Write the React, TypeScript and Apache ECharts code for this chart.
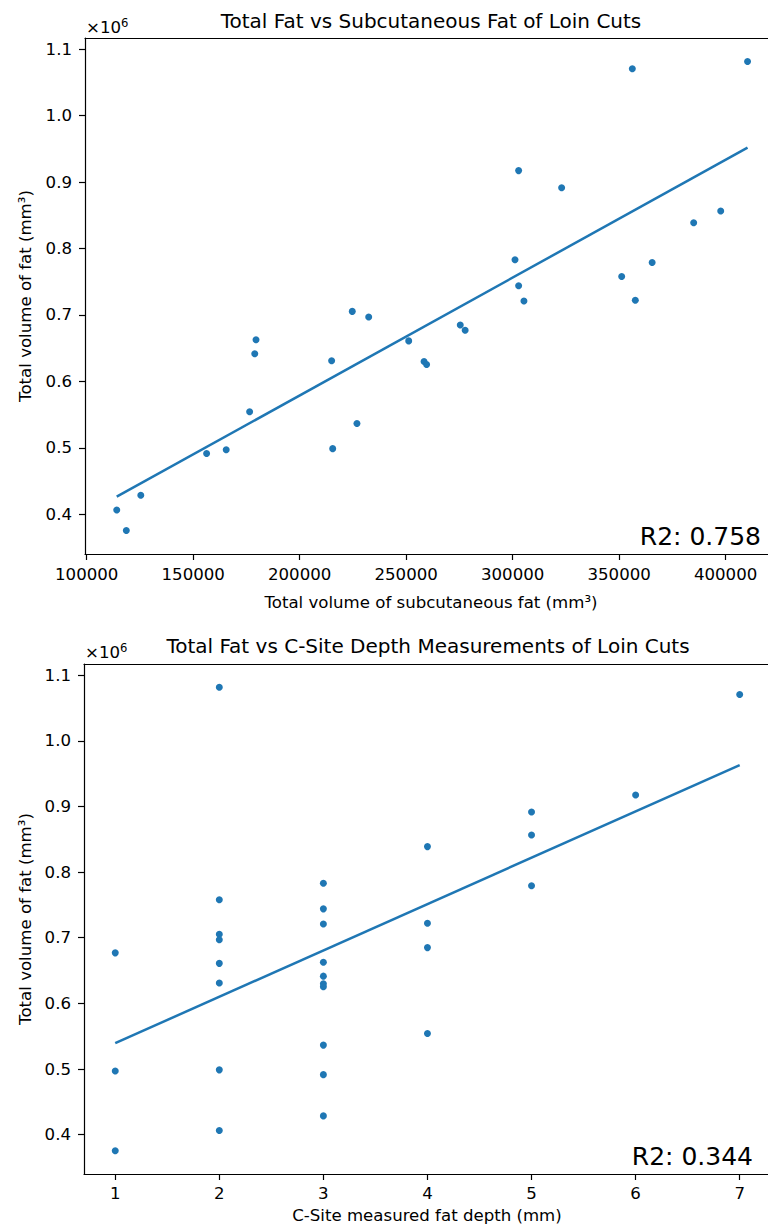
import React, { useEffect, useRef } from "react";
import * as echarts from "echarts";

// ---- Data ----
const subcutaneousFat = [
  114100, 118600, 125400, 156300, 165500, 176500, 178900, 179500, 215000, 215500,
  224700, 226900, 232400, 251200, 258400, 259600, 275400, 277700, 301100, 302800,
  302800, 305300, 323000, 351200, 356200, 357600, 365500, 385000, 397700, 410300,
];
const totalFat = [
  406500, 375500, 428700, 491500, 497000, 554300, 641500, 662800, 631200, 498800,
  705400, 536500, 697000, 661000, 630000, 625500, 685000, 677000, 783000, 917300,
  744000, 721000, 891600, 758000, 1070500, 722100, 779100, 838800, 856600, 1081500,
];
const cSiteDepth = [
  2, 1, 3, 3, 1, 4, 3, 3, 2, 2,
  2, 3, 2, 2, 3, 3, 4, 1, 3, 6,
  3, 3, 5, 2, 7, 4, 5, 4, 5, 2,
];
const subFitX = [114100, 410300];
const subFitY = [426500, 951900];
const depthFitX = [1, 7];
const depthFitY = [539500, 963000];

const subTicks = [100000, 150000, 200000, 250000, 300000, 350000, 400000];
const depthTicks = [1, 2, 3, 4, 5, 6, 7];
const fatTicks = [400000, 500000, 600000, 700000, 800000, 900000, 1000000, 1100000];

const titleSub = "Total Fat vs Subcutaneous Fat of Loin Cuts";
const titleDepth = "Total Fat vs C-Site Depth Measurements of Loin Cuts";
const xNameSub = "Total volume of subcutaneous fat (mm³)";
const xNameDepth = "C-Site measured fat depth (mm)";
const yName = "Total volume of fat (mm³)";
const r2Sub = "R2: 0.758";
const r2Depth = "R2: 0.344";

const BLUE = "#1f77b4";
const FONT = "DejaVu Sans";
const TICK_FS = 16.6;

export default function App() {
  const ref = useRef<HTMLDivElement>(null);

  useEffect(() => {
    if (!ref.current) return;
    const chart = echarts.init(ref.current, undefined, { renderer: "svg" });

    const axisLine = { show: true, lineStyle: { color: "#000", width: 1.2 } };
    const axisTick = (vals: number[]) => ({
      show: true,
      length: 6,
      lineStyle: { color: "#000", width: 1.2 },
      customValues: vals,
    });
    const label = (vals: number[], margin: number, fmt: (v: number) => string) => ({
      show: true,
      customValues: vals,
      margin,
      color: "#000",
      fontFamily: FONT,
      fontSize: TICK_FS,
      formatter: fmt,
    });

    const yMin = 340200;
    const yMax = 1116900;

    const text = (t: string, x: number, y: number, size: number, align = "center", extra: any = {}) => ({
      type: "text",
      x,
      y,
      ...extra,
      style: {
        text: t,
        fontFamily: FONT,
        fontSize: size,
        fill: "#000",
        align,
        verticalAlign: "middle",
      },
    });

    const offsetText = (x: number, y: number) => ({
      type: "text",
      x,
      y,
      style: {
        text: "{a|×10}{b|6}",
        fontFamily: FONT,
        fill: "#000",
        align: "left",
        verticalAlign: "middle",
        rich: {
          a: { fontFamily: FONT, fontSize: TICK_FS, fill: "#000", color: "#000" },
          b: {
            fontFamily: FONT,
            fontSize: 11.6,
            fill: "#000",
            color: "#000",
            verticalAlign: "top",
            padding: [0, 0, 8, 0],
          },
        },
      },
    });

    chart.setOption({
      animation: false,
      backgroundColor: "#fff",
      grid: [
        { left: 85, top: 38, width: 683, height: 516 },
        { left: 84, top: 664, width: 684, height: 510 },
      ],
      xAxis: [
        {
          type: "value",
          gridIndex: 0,
          min: 99200,
          max: 419900,
          position: "bottom",
          axisLine,
          axisTick: axisTick(subTicks),
          axisLabel: label(subTicks, 12, (v: number) => String(v)),
          splitLine: { show: false },
        },
        {
          type: "value",
          gridIndex: 1,
          min: 0.7,
          max: 7.272,
          position: "bottom",
          axisLine,
          axisTick: axisTick(depthTicks),
          axisLabel: label(depthTicks, 11, (v: number) => String(v)),
          splitLine: { show: false },
        },
        {
          type: "value",
          gridIndex: 0,
          min: 99200,
          max: 419900,
          position: "top",
          axisLine,
          axisTick: { show: false },
          axisLabel: { show: false },
          splitLine: { show: false },
        },
        {
          type: "value",
          gridIndex: 1,
          min: 0.7,
          max: 7.272,
          position: "top",
          axisLine,
          axisTick: { show: false },
          axisLabel: { show: false },
          splitLine: { show: false },
        },
      ],
      yAxis: [
        {
          type: "value",
          gridIndex: 0,
          min: yMin,
          max: yMax,
          axisLine,
          axisTick: axisTick(fatTicks),
          axisLabel: label(fatTicks, 13, (v: number) => (v / 1e6).toFixed(1)),
          splitLine: { show: false },
        },
        {
          type: "value",
          gridIndex: 1,
          min: yMin,
          max: yMax,
          axisLine,
          axisTick: axisTick(fatTicks),
          axisLabel: label(fatTicks, 13, (v: number) => (v / 1e6).toFixed(1)),
          splitLine: { show: false },
        },
      ],
      series: [
        {
          type: "scatter",
          xAxisIndex: 0,
          yAxisIndex: 0,
          symbolSize: 7,
          itemStyle: { color: BLUE, opacity: 1 },
          data: subcutaneousFat.map((x, i) => [x, totalFat[i]]),
        },
        {
          type: "line",
          xAxisIndex: 0,
          yAxisIndex: 0,
          showSymbol: false,
          symbol: "none",
          lineStyle: { color: BLUE, width: 2.5 },
          data: subFitX.map((x, i) => [x, subFitY[i]]),
        },
        {
          type: "scatter",
          xAxisIndex: 1,
          yAxisIndex: 1,
          symbolSize: 7,
          itemStyle: { color: BLUE, opacity: 1 },
          data: cSiteDepth.map((x, i) => [x, totalFat[i]]),
        },
        {
          type: "line",
          xAxisIndex: 1,
          yAxisIndex: 1,
          showSymbol: false,
          symbol: "none",
          lineStyle: { color: BLUE, width: 2.5 },
          data: depthFitX.map((x, i) => [x, depthFitY[i]]),
        },
      ],
      graphic: [
        text(titleSub, 431, 21, 20),
        text(titleDepth, 428, 646, 20),
        offsetText(86, 27),
        offsetText(85, 652),
        text(xNameSub, 431, 602, TICK_FS),
        text(xNameDepth, 427, 1215, TICK_FS),
        text(yName, 25, 296, TICK_FS, "center", { rotation: Math.PI / 2 }),
        text(yName, 25, 919, TICK_FS, "center", { rotation: Math.PI / 2 }),
        text(r2Sub, 761, 536, 25, "right"),
        text(r2Depth, 753, 1156, 25, "right"),
      ],
    });

    return () => chart.dispose();
  }, []);

  return (
    <div
      ref={ref}
      style={{ position: "absolute", left: 0, top: 0, width: 768, height: 1225 }}
    />
  );
}
